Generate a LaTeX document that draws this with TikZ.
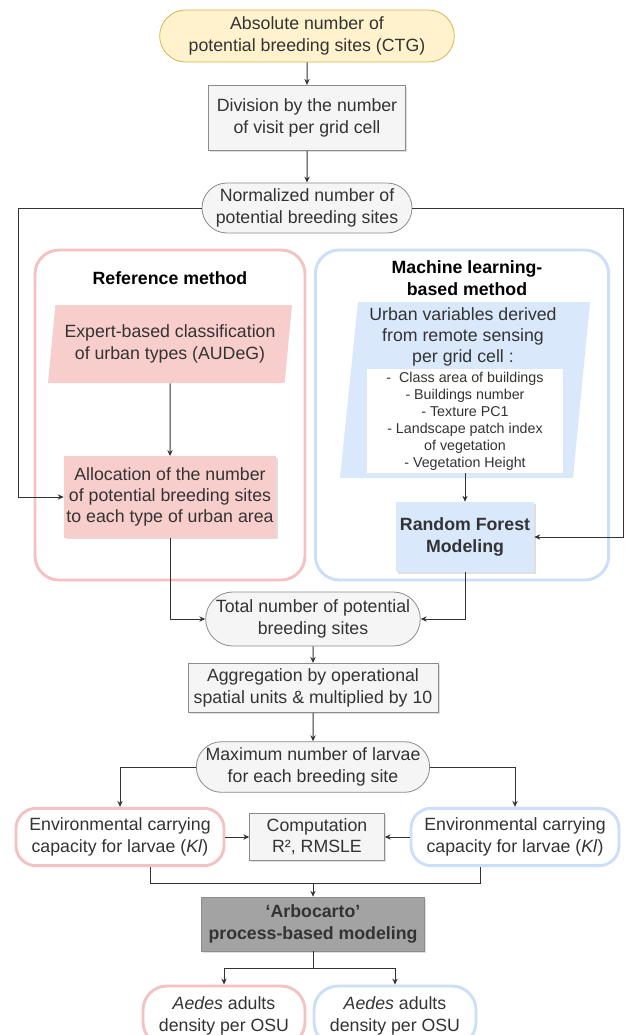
\documentclass[tikz,border=0pt]{standalone}
\usepackage{fontspec}
\setmainfont{Liberation Sans}
\usetikzlibrary{shapes.geometric,shapes.misc,shadows,arrows.meta}

\definecolor{txtgray}{HTML}{333333}
\definecolor{linegray}{HTML}{333333}
\definecolor{boxgray}{HTML}{F5F5F5}
\definecolor{bordgray}{HTML}{8C8C8C}
\definecolor{arbogray}{HTML}{A3A3A3}
\definecolor{startfill}{HTML}{FFF2CC}
\definecolor{startline}{HTML}{D6B656}
\definecolor{reffill}{HTML}{F8CECC}
\definecolor{refline}{HTML}{F5C2C4}
\definecolor{mlfill}{HTML}{DAE8FC}
\definecolor{mlline}{HTML}{CCDFF8}

\tikzset{
  txt/.style={font=\fontsize{13.3}{16}\selectfont, text=txtgray, align=center, inner sep=0pt},
  boldtxt/.style={txt, font=\fontsize{13.3}{16}\selectfont\bfseries},
  graybox/.style={txt, rectangle, draw=bordgray, fill=boxgray, line width=0.6pt},
  shadowed/.style={drop shadow={shadow xshift=1.2pt, shadow yshift=-1.2pt, opacity=0.25}},
  pill/.style={txt, rounded rectangle, draw=bordgray, fill=boxgray, line width=0.6pt},
  frame/.style={rectangle, rounded corners=18pt, line width=2.2pt, fill=white},
  capbox/.style={txt, rectangle, rounded corners=15pt, line width=2.2pt, fill=white,
    minimum width=156pt, minimum height=43pt},
  para/.style={txt, trapezium, trapezium stretches body, draw=none},
  conn/.style={draw=linegray, line width=0.75pt, -{Stealth[length=4.5pt,width=4pt]}},
  link/.style={draw=linegray, line width=0.75pt},
}

\begin{document}
\begin{tikzpicture}[x=0.75pt, y=-0.75pt]
    \useasboundingbox (0,0) rectangle (625,1035);
    \fill[white] (0,0) rectangle (625,1035);

    % top of the chain
    \node[pill, draw=startline, fill=startfill, minimum width=221pt, minimum height=39pt]
        (ctg) at (307,36) {Absolute number of\\potential breeding sites (CTG)};
    \node[graybox, shadowed, minimum width=148pt, minimum height=49pt]
        (divide) at (307,118) {Division by the number\\of visit per grid cell};
    \node[pill, minimum width=157.5pt, minimum height=37.5pt]
        (norm) at (307,208) {Normalized number of\\potential breeding sites};

    % the two methods
    \node[frame, draw=refline, minimum width=202.5pt, minimum height=247.5pt]
        (refframe) at (170,415) {};
    \node[frame, draw=mlline, minimum width=220pt, minimum height=247.5pt]
        (mlframe) at (462,415) {};

    \node[boldtxt, text=black] (reftitle) at (170,278) {Reference method};
    \node[para, fill=reffill, trapezium left angle=79, trapezium right angle=101,
        minimum width=183pt, minimum height=58.5pt]
        (expert) at (170,344) {Expert-based classification\\of urban types (AUDeG)};
    \node[txt, fill=reffill, shadowed, minimum width=159pt, minimum height=61pt]
        (alloc) at (170,497) {Allocation of the number\\of potential breeding sites\\to each type of urban area};

    \node[boldtxt, text=black] (mltitle) at (467,278) {Machine learning-\\based method};
    % slanted input block
    \fill[mlfill] (358,302) -- (590,302) -- (573,478) -- (340,478) -- cycle;
    \node[txt] (urbantxt) at (463,337) {Urban variables derived\\from remote sensing\\per grid cell :};
    \node[txt, font=\fontsize{10.7}{12.75}\selectfont, fill=white, minimum width=147pt, minimum height=78pt]
        (vars) at (465,421) {-\ \ Class area of buildings\\- Buildings number\\- Texture PC1\\- Landscape patch index\\of vegetation\\- Vegetation Height};
    \node[boldtxt, fill=mlfill, shadowed, minimum width=103.5pt, minimum height=52.5pt]
        (forest) at (465,537) {Random Forest\\Modeling};

    % common part
    \node[pill, minimum width=161pt, minimum height=40.5pt]
        (total) at (313,619) {Total number of potential\\breeding sites};
    \node[graybox, shadowed, minimum width=187.5pt, minimum height=37pt]
        (aggr) at (313,688) {Aggregation by operational\\spatial units \& multiplied by 10};
    \node[pill, minimum width=175pt, minimum height=38pt]
        (larvae) at (313,767) {Maximum number of larvae\\for each breeding site};

    \node[capbox, draw=refline] (kref) at (120,837) {Environmental carrying\\capacity for larvae (\textit{Kl})};
    \node[capbox, draw=mlline] (kml) at (515,837) {Environmental carrying\\capacity for larvae (\textit{Kl})};
    \node[graybox, shadowed, minimum width=101pt, minimum height=35pt]
        (comp) at (317,837) {Computation\\R², RMSLE};

    \node[boldtxt, draw=bordgray, fill=arbogray, shadowed, minimum width=167pt, minimum height=40.5pt]
        (arbo) at (313,924) {`Arbocarto'\\process-based modeling};

    \node[capbox, rounded corners=18pt, draw=refline, minimum width=121.5pt, minimum height=45pt]
        (adref) at (224,1016) {\textit{Aedes} adults\\density per OSU};
    \node[capbox, rounded corners=18pt, draw=mlline, minimum width=121.5pt, minimum height=45pt]
        (adml) at (395,1016) {\textit{Aedes} adults\\density per OSU};

    % connectors
    \coordinate (lft) at (18,208);
    \coordinate (rgt) at (623,208);
    \coordinate (merge) at (313,883);
    \coordinate (split) at (313,968);

    \draw[conn] (ctg) -- (divide);
    \draw[conn] (divide) -- (norm);
    \draw[conn] (norm.west) -| (lft) |- (alloc.west);
    \draw[conn] (norm.east) -| (rgt) |- (forest.east);
    \draw[conn] (expert) -- (alloc);
    \draw[conn] (vars) -- (forest);
    \draw[conn] (alloc.south) |- (total.west);
    \draw[conn] (forest.south) |- (total.east);
    \draw[conn] (total) -- (aggr);
    \draw[conn] (aggr) -- (larvae);
    \draw[conn] (larvae.west) -| (kref.north);
    \draw[conn] (larvae.east) -| (kml.north);
    \draw[conn] (kref) -- (comp);
    \draw[conn] (kml) -- (comp);
    \draw[link] ([xshift=23pt]kref.south) |- (merge) -| ([xshift=-26pt]kml.south);
    \draw[conn] (merge) -- (arbo);
    \draw[link] (arbo) -- (split);
    \draw[conn] (split) -| (adref);
    \draw[conn] (split) -| (adml);
\end{tikzpicture}
\end{document}
